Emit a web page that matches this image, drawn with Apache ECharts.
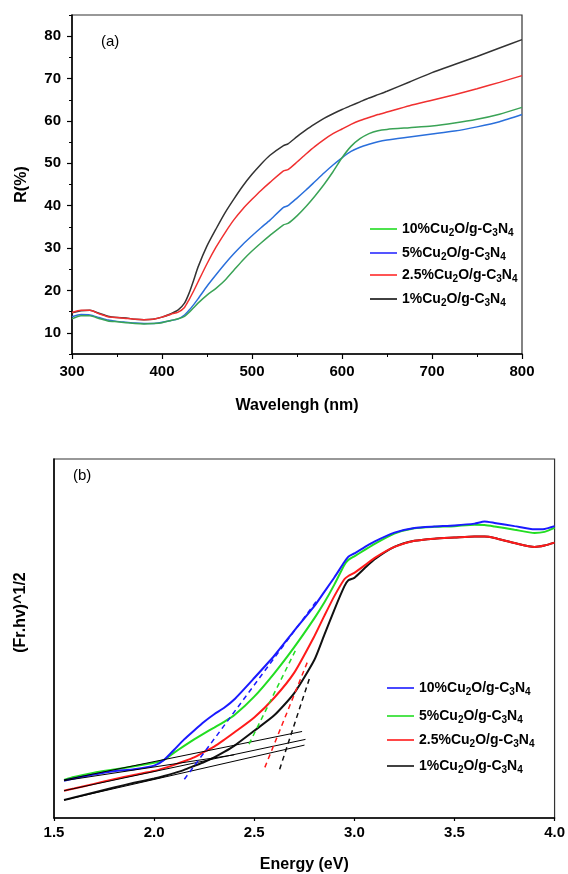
<!DOCTYPE html>
<html>
<head>
<meta charset="utf-8">
<script src="https://cdn.jsdelivr.net/npm/echarts@6/dist/echarts.min.js"></script>
<style>
  html, body { margin: 0; padding: 0; background: #fff; }
  #main { width: 568px; height: 874px; }
</style>
</head>
<body>
<div id="main"></div>
<script>
// ---- panel (a): reflectance vs wavelength ----
var wavelengths = [300, 310, 320, 330, 340, 350, 360, 370, 380, 390, 400, 410, 418, 425, 430, 435, 440, 450, 460, 470, 480, 490, 500, 510, 520, 535, 540, 550, 560, 570, 580, 590, 600, 610, 620, 630, 640, 650, 675, 700, 725, 750, 775, 800];
var rBlack = [14.7, 15.2, 15.3, 14.6, 13.9, 13.6, 13.5, 13.2, 13.1, 13.2, 13.7, 14.5, 15.4, 17.0, 19.3, 22.3, 25.5, 30.5, 34.5, 38.3, 41.6, 44.7, 47.4, 49.8, 51.9, 54.2, 54.6, 56.3, 57.9, 59.3, 60.6, 61.7, 62.7, 63.6, 64.5, 65.4, 66.2, 67.0, 69.2, 71.4, 73.3, 75.2, 77.2, 79.2];
var rRed = [14.8, 15.3, 15.3, 14.5, 13.8, 13.6, 13.4, 13.2, 13.1, 13.2, 13.7, 14.4, 14.9, 16.0, 17.8, 19.8, 22.0, 26.3, 30.2, 33.6, 36.7, 39.3, 41.5, 43.6, 45.5, 48.2, 48.5, 50.3, 52.2, 54.0, 55.6, 57.0, 58.1, 59.2, 60.1, 60.8, 61.5, 62.1, 63.6, 64.9, 66.2, 67.6, 69.1, 70.7];
var rBlue = [13.8, 14.3, 14.2, 13.6, 13.0, 12.7, 12.5, 12.3, 12.2, 12.2, 12.5, 12.9, 13.3, 14.2, 15.3, 16.6, 18.0, 21.0, 23.7, 26.3, 28.7, 30.9, 32.9, 34.8, 36.6, 39.6, 40.0, 41.8, 43.7, 45.7, 47.7, 49.6, 51.3, 52.8, 53.8, 54.5, 55.1, 55.5, 56.2, 56.9, 57.6, 58.6, 59.8, 61.5];
var rGreen = [13.3, 14.0, 14.0, 13.4, 12.8, 12.6, 12.4, 12.2, 12.1, 12.2, 12.4, 12.9, 13.3, 13.9, 14.8, 15.9, 17.0, 18.9, 20.5, 22.4, 24.8, 27.2, 29.3, 31.2, 33.0, 35.5, 35.8, 37.6, 39.8, 42.3, 45.0, 48.0, 51.3, 54.0, 55.8, 57.0, 57.7, 58.0, 58.4, 58.8, 59.5, 60.4, 61.6, 63.2];
var yTicksA = [10, 20, 30, 40, 50, 60, 70, 80];
var yMinorA = [5, 15, 25, 35, 45, 55, 65, 75, 85];

// ---- panel (b): (F(R).hv)^1/2 vs energy ----
var energies = [1.55, 1.6, 1.7, 1.8, 1.9, 2.0, 2.05, 2.1, 2.15, 2.2, 2.25, 2.3, 2.35, 2.4, 2.5, 2.6, 2.7, 2.8, 2.85, 2.9, 2.95, 2.97, 3.0, 3.05, 3.1, 3.2, 3.3, 3.4, 3.5, 3.6, 3.65, 3.7, 3.8, 3.9, 3.95, 4.0];
var k10 = [10.4, 11.0, 12.1, 13.0, 13.6, 14.6, 16.2, 19.0, 21.9, 24.4, 26.8, 28.9, 30.7, 33.0, 39.0, 45.2, 52.2, 59.0, 63.0, 67.0, 71.3, 72.8, 73.7, 75.4, 77.0, 79.5, 80.8, 81.2, 81.5, 82.0, 82.6, 82.2, 81.3, 80.4, 80.5, 81.3];
var k5 = [10.6, 11.4, 12.6, 13.5, 14.4, 15.4, 16.2, 18.2, 20.1, 21.9, 23.6, 25.2, 26.8, 28.6, 33.8, 40.3, 47.6, 55.6, 60.0, 65.0, 70.5, 71.9, 72.9, 74.6, 76.3, 79.2, 80.7, 81.1, 81.3, 81.7, 81.6, 81.2, 80.3, 79.4, 79.7, 80.8];
var k25 = [7.6, 8.2, 9.5, 10.8, 12.0, 13.1, 13.9, 14.8, 15.8, 16.9, 18.4, 19.9, 21.8, 23.8, 28.0, 33.5, 40.5, 50.6, 56.3, 61.8, 66.5, 67.4, 68.3, 70.3, 72.4, 75.5, 77.2, 77.8, 78.1, 78.4, 78.4, 78.0, 76.6, 75.5, 75.9, 76.7];
var k1 = [5.0, 5.7, 7.1, 8.5, 9.8, 11.0, 11.7, 12.5, 13.4, 14.5, 15.6, 16.9, 18.4, 20.1, 24.3, 28.6, 34.8, 44.0, 51.0, 58.0, 64.5, 66.2, 66.9, 69.5, 72.0, 75.5, 77.2, 77.8, 78.1, 78.4, 78.4, 78.0, 76.6, 75.5, 75.9, 76.7];
// tangent (Tauc) fit lines
var tan10 = [[2.151, 10.8], [2.816, 60.8]];
var tan5 = [[2.474, 20.6], [2.708, 46.9]];
var tan25 = [[2.553, 14.1], [2.771, 44.2]];
var tan1 = [[2.627, 13.6], [2.777, 39.1]];
var base5 = [[1.55, 10.6], [2.739, 24.1]];
var base25 = [[1.55, 7.6], [2.756, 21.9]];
var base1 = [[1.55, 5.0], [2.751, 20.3]];
var base10 = [[1.55, 10.4], [2.40, 17.6]];

var names = ['10%Cu2O/g-C3N4', '5%Cu2O/g-C3N4', '2.5%Cu2O/g-C3N4', '1%Cu2O/g-C3N4'];

var dom = document.getElementById('main');
var myChart = echarts.init(dom);
var FONT = 'Liberation Sans, Arial, sans-serif';

function pairs(xs, ys) {
  return xs.map(function (x, i) { return [x, ys[i]]; });
}
function richName(n) {
  return n.replace('#b', '').replace(/([A-Za-z])(\d)/g, '$1{s|$2}');
}
function curve(name, grid, data, color, width) {
  return {
    name: name, type: 'line', xAxisIndex: grid, yAxisIndex: grid === 0 ? 0 : 2,
    data: data, showSymbol: false, symbol: 'none', smooth: 0.2,
    lineStyle: { color: color, width: width }, itemStyle: { color: color },
    silent: true, z: 3
  };
}
function fit(data, color, dashed) {
  return {
    type: 'line', xAxisIndex: 1, yAxisIndex: 2, data: data, showSymbol: false, symbol: 'none',
    lineStyle: { color: color, width: dashed ? 1.5 : 1, type: dashed ? [5, 4] : 'solid' },
    silent: true, z: 4
  };
}

var legendTopsA = [231, 255, 277, 301];
var legendTopsB = [690, 718, 742, 768];
var legendColA = ['#22dd22', '#2b2bff', '#ff2a2a', '#111'];
var legendColB = ['#1a1aff', '#22dd22', '#ff1a1a', '#111'];
var legends = [];
names.forEach(function (n, i) {
  legends.push({ n: n, top: legendTopsA[i], left: 370, col: legendColA[i] });
});
['10%Cu2O/g-C3N4#b', '5%Cu2O/g-C3N4#b', '2.5%Cu2O/g-C3N4#b', '1%Cu2O/g-C3N4#b'].forEach(function (n, i) {
  legends.push({ n: n, top: legendTopsB[i], left: 387, col: legendColB[i] });
});

var labelStyle = { color: '#000', fontSize: 15, fontWeight: 'bold', fontFamily: FONT };
var nameStyle = { color: '#000', fontSize: 16, fontWeight: 'bold', fontFamily: FONT };

var option = {
  backgroundColor: '#fff',
  animation: false,
  grid: [
    { left: 72, top: 15, width: 450, height: 339, show: true, borderColor: '#333', borderWidth: 1.2 },
    { left: 54, top: 459, width: 503, height: 360, show: true, borderColor: '#333', borderWidth: 1.2 }
  ],
  xAxis: [
    {
      type: 'value', gridIndex: 0, min: 300, max: 800, interval: 100,
      name: 'Wavelengh (nm)', nameLocation: 'middle', nameGap: 44, nameTextStyle: nameStyle,
      axisLine: { lineStyle: { color: '#000', width: 1.5 } },
      axisTick: { length: 5, lineStyle: { color: '#000', width: 1.2 } },
      minorTick: { show: true, splitNumber: 2, length: 3, lineStyle: { color: '#000', width: 1 } },
      axisLabel: Object.assign({ margin: 10 }, labelStyle),
      splitLine: { show: false }
    },
    {
      type: 'value', gridIndex: 1, min: 1.5, max: 4.0, interval: 0.5,
      name: 'Energy (eV)', nameLocation: 'middle', nameGap: 39, nameTextStyle: nameStyle,
      axisLine: { lineStyle: { color: '#000', width: 1.5 } },
      axisTick: { length: 3, lineStyle: { color: '#000', width: 1.2 } },
      axisLabel: Object.assign({ margin: 7, formatter: function (v) { return v.toFixed(1); } }, labelStyle),
      splitLine: { show: false }
    }
  ],
  yAxis: [
    {
      type: 'value', gridIndex: 0, min: 5, max: 85, interval: 5,
      name: 'R(%)', nameLocation: 'middle', nameGap: 42, nameTextStyle: nameStyle,
      axisLine: { show: true, lineStyle: { color: '#000', width: 1.5 } },
      axisTick: { show: true, length: 5, customValues: yTicksA, lineStyle: { color: '#000', width: 1.2 } },
      axisLabel: Object.assign({ margin: 11, customValues: yTicksA }, labelStyle),
      splitLine: { show: false }
    },
    {
      type: 'value', gridIndex: 0, min: 5, max: 85, interval: 5, position: 'left',
      axisLine: { show: false },
      axisTick: { show: true, length: 3, customValues: yMinorA, lineStyle: { color: '#000', width: 1 } },
      axisLabel: { show: false },
      splitLine: { show: false }
    },
    {
      type: 'value', gridIndex: 1, min: 0, max: 100,
      name: '(Fr.hv)^1/2', nameLocation: 'middle', nameGap: 25,
      nameTextStyle: Object.assign({ padding: [0, 0, 0, 52] }, nameStyle),
      axisLine: { show: true, lineStyle: { color: '#000', width: 1.5 } },
      axisTick: { show: false }, axisLabel: { show: false },
      splitLine: { show: false }
    }
  ],
  legend: legends.map(function (l) {
    return {
      data: [{ name: l.n, icon: 'rect', itemStyle: { color: l.col } }],
      left: l.left, top: l.top - 9, padding: 0, itemWidth: 27, itemHeight: 1.6, itemGap: 0,
      selectedMode: false,
      formatter: function (n) { return richName(n); },
      textStyle: {
        color: '#000', fontSize: 14, fontWeight: 'bold', fontFamily: FONT,
        rich: { s: { fontSize: 10, fontWeight: 'bold', fontFamily: FONT, verticalAlign: 'bottom', padding: [8, 0, 0, 0] } }
      }
    };
  }),
  graphic: [
    { type: 'text', left: 101, top: 34, style: { text: '(a)', fontSize: 15, fontFamily: FONT, fill: '#000' } },
    { type: 'text', left: 73, top: 468, style: { text: '(b)', fontSize: 15, fontFamily: FONT, fill: '#000' } }
  ],
  series: [
    curve(names[3], 0, pairs(wavelengths, rBlack), '#333333', 1.5),
    curve(names[2], 0, pairs(wavelengths, rRed), '#f03030', 1.5),
    curve(names[1], 0, pairs(wavelengths, rBlue), '#2a6fdb', 1.5),
    curve(names[0], 0, pairs(wavelengths, rGreen), '#3aa356', 1.5),

    fit(base5, '#000', false),
    fit(base25, '#000', false),
    fit(base1, '#000', false),
    fit(base10, '#000', false),
    curve('1%Cu2O/g-C3N4#b', 1, pairs(energies, k1), '#111111', 2),
    curve('2.5%Cu2O/g-C3N4#b', 1, pairs(energies, k25), '#ff1a1a', 2),
    curve('5%Cu2O/g-C3N4#b', 1, pairs(energies, k5), '#22dd22', 2),
    curve('10%Cu2O/g-C3N4#b', 1, pairs(energies, k10), '#1a1aff', 2),
    fit(tan10, '#1a1aff', true),
    fit(tan5, '#22dd22', true),
    fit(tan25, '#ff1a1a', true),
    fit(tan1, '#111', true)
  ]
};

window.onresize = function () {
  myChart.resize();
};

if (option && typeof option === 'object') {
  myChart.setOption(option);
}
</script>
</body>
</html>
